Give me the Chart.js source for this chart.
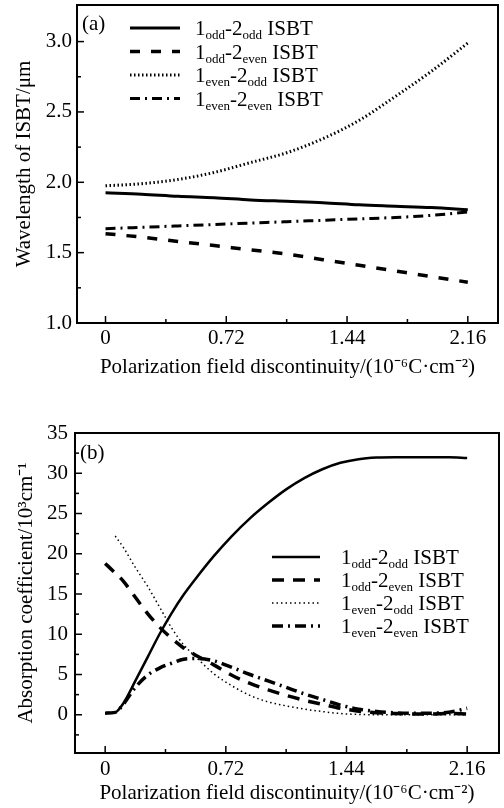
<!DOCTYPE html>
<html>
<head>
<meta charset="utf-8">
<script src="https://cdn.jsdelivr.net/npm/chart.js@4.4.1/dist/chart.umd.min.js"></script>
<style>
  html, body { margin: 0; padding: 0; background: #fff; }
  canvas { position: absolute; left: 0; }
  #chartA { top: 0; }
  #chartB { top: 400px; }
</style>
</head>
<body>
<canvas id="chartA" width="504" height="400"></canvas>
<canvas id="chartB" width="504" height="408"></canvas>
<script>
// shared x axis
const xTicks = [0, 0.72, 1.44, 2.16];
const xTickLabels = ['0', '0.72', '1.44', '2.16'];
const xMinorTicks = [0.36, 1.08, 1.80];
const xTitle = 'Polarization field discontinuity/(10\u207B\u2076C\u00B7cm\u207B\u00B2)';

// legend labels, [text, isSubscript]
const labelOddOdd = [['1', 0], ['odd', 1], ['-2', 0], ['odd', 1], [' ISBT', 0]];
const labelOddEven = [['1', 0], ['odd', 1], ['-2', 0], ['even', 1], [' ISBT', 0]];
const labelEvenOdd = [['1', 0], ['even', 1], ['-2', 0], ['odd', 1], [' ISBT', 0]];
const labelEvenEven = [['1', 0], ['even', 1], ['-2', 0], ['even', 1], [' ISBT', 0]];

// (a) wavelength
const xA = [0, 0.216, 0.432, 0.648, 0.864, 1.08, 1.296, 1.512, 1.728, 1.944, 2.16];
const oddOddA = [1.925, 1.915, 1.90, 1.89, 1.875, 1.865, 1.855, 1.84, 1.83, 1.82, 1.805];
const oddEvenA = [1.635, 1.61, 1.58, 1.55, 1.52, 1.49, 1.45, 1.41, 1.37, 1.33, 1.29];
const evenOddA = [1.975, 1.99, 2.02, 2.07, 2.14, 2.21, 2.31, 2.44, 2.61, 2.79, 2.99];
const evenEvenA = [1.67, 1.68, 1.69, 1.70, 1.71, 1.72, 1.73, 1.74, 1.75, 1.765, 1.79];
const yTicksA = [1.0, 1.5, 2.0, 2.5, 3.0];
const yMinorA = [1.25, 1.75, 2.25, 2.75];

// (b) absorption coefficient
const xB = [0, 0.06, 0.108, 0.18, 0.252, 0.324, 0.396, 0.468, 0.54, 0.648, 0.756, 0.864,
            0.972, 1.08, 1.188, 1.296, 1.404, 1.512, 1.62, 1.728, 1.836, 1.944, 2.052, 2.16];
const oddOddB = [0.2, 0.3, 1.4, 4.2, 7.1, 10.0, 12.6, 14.9, 16.9, 19.7, 22.2, 24.4,
                 26.3, 28.0, 29.4, 30.5, 31.3, 31.75, 31.95, 32.0, 32.0, 32.0, 32.0, 31.9];
const oddEvenB = [18.8, 17.6, 16.6, 14.6, 12.6, 10.9, 9.5, 8.3, 7.4, 6.2, 4.9, 3.9,
                  3.1, 2.4, 1.8, 1.3, 0.8, 0.45, 0.25, 0.15, 0.1, 0.1, 0.15, 0.1];
const evenOddB = [null, 22.2, 20.8, 18.3, 16.0, 13.4, 10.8, 8.7, 7.2, 5.1, 3.6, 2.4,
                  1.6, 1.1, 0.7, 0.4, 0.15, 0.05, 0, 0, 0, 0, 0, 0];
const evenEvenB = [0.2, 0.3, 1.3, 3.4, 4.9, 5.8, 6.4, 6.9, 7.0, 6.7, 5.9, 5.0,
                   4.2, 3.4, 2.6, 1.9, 1.2, 0.7, 0.4, 0.25, 0.2, 0.2, 0.3, 0.8];
const yTicksB = [0, 5, 10, 15, 20, 25, 30, 35];
const yMinorB = [-2.5, 2.5, 7.5, 12.5, 17.5, 22.5, 27.5, 32.5];

const FONT = '"Liberation Serif", "Times New Roman", serif';
const font21 = { family: FONT, size: 21 };

function pts(xs, ys) {
  return xs.map((x, i) => ({ x: x, y: ys[i] }));
}

// box frame with inward ticks
const frameTicks = {
  id: 'frameTicks',
  afterDraw(chart, args, opts) {
    const { ctx, chartArea: a, scales } = chart;
    const x = scales.x, y = scales.y;
    ctx.save();
    ctx.strokeStyle = '#000';
    ctx.lineWidth = 2;
    ctx.strokeRect(a.left, a.top, a.right - a.left, a.bottom - a.top);
    ctx.lineWidth = 1.5;
    const tick = (px, py, dx, dy) => {
      ctx.beginPath(); ctx.moveTo(px, py); ctx.lineTo(px + dx, py + dy); ctx.stroke();
    };
    opts.xMajor.forEach(v => tick(x.getPixelForValue(v), a.bottom, 0, -7));
    opts.xMinor.forEach(v => tick(x.getPixelForValue(v), a.bottom, 0, -4));
    opts.yMajor.forEach(v => tick(a.left, y.getPixelForValue(v), 7, 0));
    opts.yMinor.forEach(v => tick(a.left, y.getPixelForValue(v), 4, 0));
    ctx.restore();
  }
};

// legend with subscripts + panel letter
const subLegend = {
  id: 'subLegend',
  afterDraw(chart, args, opts) {
    const ctx = chart.ctx;
    ctx.save();
    ctx.fillStyle = '#000';
    ctx.textBaseline = 'alphabetic';
    chart.data.datasets.forEach((ds, i) => {
      const yy = opts.top + i * opts.gap;
      ctx.beginPath();
      ctx.setLineDash(ds.borderDash || []);
      ctx.lineWidth = ds.borderWidth;
      ctx.strokeStyle = ds.borderColor;
      ctx.moveTo(opts.lineX0, yy);
      ctx.lineTo(opts.lineX1, yy);
      ctx.stroke();
      ctx.setLineDash([]);
      let tx = opts.textX;
      ds.labelParts.forEach(([txt, sub]) => {
        ctx.font = (sub ? '13px ' : '21px ') + FONT;
        ctx.fillText(txt, tx, yy + 7 + (sub ? 4 : 0));
        tx += ctx.measureText(txt).width;
      });
    });
    ctx.font = '21px ' + FONT;
    ctx.fillText(opts.panel, opts.panelX, opts.panelY);
    ctx.restore();
  }
};

function makeChart(id, cfg) {
  return new Chart(document.getElementById(id), {
    type: 'line',
    data: { datasets: cfg.datasets },
    plugins: [frameTicks, subLegend],
    options: {
      responsive: false,
      animation: false,
      layout: { padding: cfg.padding },
      elements: { point: { radius: 0 }, line: { cubicInterpolationMode: 'monotone' } },
      plugins: {
        legend: { display: false },
        tooltip: { enabled: false },
        frameTicks: { xMajor: xTicks, xMinor: xMinorTicks, yMajor: cfg.yTicks, yMinor: cfg.yMinor },
        subLegend: cfg.legend
      },
      scales: {
        x: {
          type: 'linear', min: cfg.xMin, max: cfg.xMax,
          afterBuildTicks: s => { s.ticks = xTicks.map(v => ({ value: v })); },
          afterFit: s => { s.height = cfg.xHeight; s.paddingLeft = 0; s.paddingRight = 0; },
          grid: { display: false, drawTicks: false },
          border: { display: false },
          ticks: { font: font21, color: '#000', padding: cfg.xTickPad, maxRotation: 0, autoSkip: false,
                   callback: (v, i) => xTickLabels[i] },
          title: { display: true, text: xTitle, font: font21, color: '#000',
                   padding: { top: 0, bottom: cfg.xTitlePad } }
        },
        y: {
          type: 'linear', min: cfg.yMin, max: cfg.yMax,
          afterBuildTicks: s => { s.ticks = cfg.yTicks.map(v => ({ value: v })); },
          afterFit: s => { s.width = cfg.yWidth; s.paddingTop = 0; s.paddingBottom = 0; },
          grid: { display: false, drawTicks: false },
          border: { display: false },
          ticks: { font: font21, color: '#000', padding: cfg.yTickPad, autoSkip: false,
                   callback: cfg.yFmt },
          title: { display: true, text: cfg.yTitle, font: font21, color: '#000',
                   padding: { top: cfg.yTitlePad, bottom: 0 } }
        }
      }
    }
  });
}

makeChart('chartA', {
  datasets: [
    { label: '1odd-2odd ISBT', labelParts: labelOddOdd, data: pts(xA, oddOddA),
      borderColor: '#000', borderWidth: 3, borderDash: [] },
    { label: '1odd-2even ISBT', labelParts: labelOddEven, data: pts(xA, oddEvenA),
      borderColor: '#000', borderWidth: 3.5, borderDash: [10, 11] },
    { label: '1even-2odd ISBT', labelParts: labelEvenOdd, data: pts(xA, evenOddA),
      borderColor: '#000', borderWidth: 3, borderDash: [1.5, 2.5] },
    { label: '1even-2even ISBT', labelParts: labelEvenEven, data: pts(xA, evenEvenA),
      borderColor: '#000', borderWidth: 3, borderDash: [10, 5, 2, 5] }
  ],
  padding: { top: 5, right: 6, left: 0, bottom: 0 },
  xMin: -0.17, xMax: 2.34, xHeight: 77, xTickPad: 3, xTitlePad: 20,
  yMin: 1.0, yMax: 3.26, yWidth: 77, yTickPad: 5, yTitlePad: 12,
  yTicks: yTicksA, yMinor: yMinorA,
  yFmt: v => v.toFixed(1),
  yTitle: 'Wavelength of ISBT/\u03BCm',
  legend: { top: 28, gap: 23.5, lineX0: 130, lineX1: 180, textX: 195, panel: '(a)', panelX: 82, panelY: 30 }
});

makeChart('chartB', {
  datasets: [
    { label: '1odd-2odd ISBT', labelParts: labelOddOdd, data: pts(xB, oddOddB),
      borderColor: '#000', borderWidth: 2.5, borderDash: [] },
    { label: '1odd-2even ISBT', labelParts: labelOddEven, data: pts(xB, oddEvenB),
      borderColor: '#000', borderWidth: 3.5, borderDash: [12, 9] },
    { label: '1even-2odd ISBT', labelParts: labelEvenOdd, data: pts(xB, evenOddB),
      borderColor: '#000', borderWidth: 1.5, borderDash: [1.5, 3] },
    { label: '1even-2even ISBT', labelParts: labelEvenEven, data: pts(xB, evenEvenB),
      borderColor: '#000', borderWidth: 3.5, borderDash: [11, 5, 2, 5] }
  ],
  padding: { top: 33, right: 5, left: 0, bottom: 0 },
  xMin: -0.18, xMax: 2.35, xHeight: 55, xTickPad: 4, xTitlePad: 2,
  yMin: -4.75, yMax: 35, yWidth: 75, yTickPad: 7, yTitlePad: 14,
  yTicks: yTicksB, yMinor: yMinorB,
  yFmt: v => String(v),
  yTitle: 'Absorption coefficient/10\u00B3cm\u207B\u00B9',
  legend: { top: 157, gap: 23, lineX0: 272, lineX1: 320, textX: 341, panel: '(b)', panelX: 80, panelY: 59 }
});
</script>
</body>
</html>
